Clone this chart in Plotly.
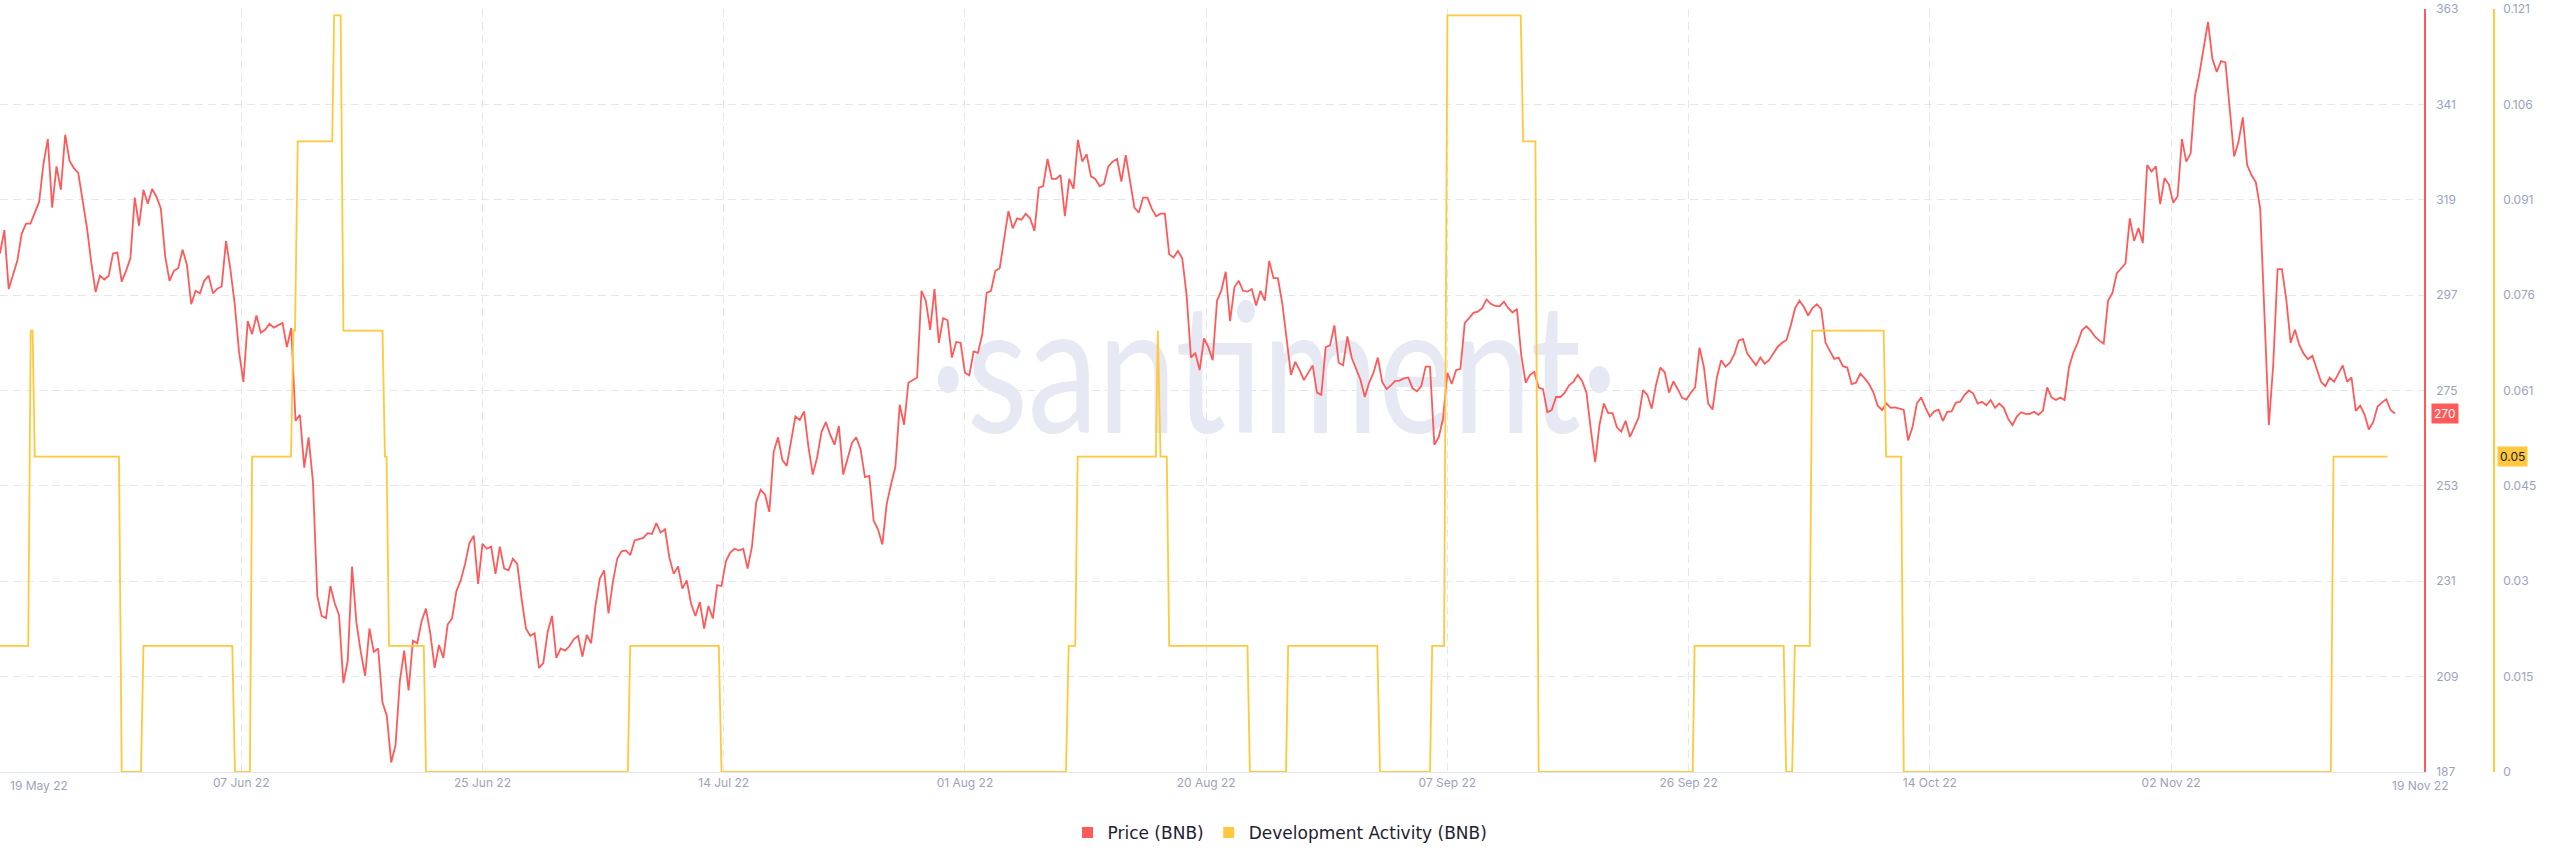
import pandas as pd
import plotly.graph_objects as go

# ---------------- data ----------------
start = pd.Timestamp("2022-05-19 12:00")
axis_end = pd.Timestamp("2022-11-21 09:30")

# BNB price, one reading every 8 hours from `start`
price = [
    306.6, 312, 298.4, 302, 305, 311.2, 313.5, 313.5, 316, 318.5,
    327.3, 333, 317.2, 326.7, 321.3, 334, 328, 326.3, 325.2, 319.2,
    312.6, 304.5, 297.7, 301.5, 300.6, 301.4, 306.6, 306.8, 300.1, 302.6,
    305.5, 319.5, 313, 321.3, 318.1, 321.5, 319.7, 317, 306, 300.3,
    302.6, 303.2, 307.5, 304, 294.9, 298, 297.4, 300.3, 301.5, 297.4,
    298.5, 299, 309.5, 303, 295, 283.9, 277, 291, 288, 292.3,
    288.3, 289, 290.4, 289.5, 290, 290.6, 285, 289.4, 268, 269.4,
    257.2, 264.2, 254, 227.6, 223, 222.5, 229.9, 226, 223.2, 207.5,
    212.6, 234.4, 221.5, 214.7, 209.2, 220.1, 214.7, 215.5, 203, 200,
    189.2, 193.2, 208.1,
    215, 205.8, 217.3, 216.7, 221.8, 224.7, 219, 211, 216.3, 213.3,
    221, 222.4, 228.7, 231.2, 235, 239.8, 241.5, 230.4, 239.6, 238.5,
    239, 232.7, 239, 233.9, 233.5, 236.2, 235, 227, 220.1, 218.4,
    219, 211, 212.1, 219.3, 223, 213.3, 215.5, 215, 216, 217.6,
    218.4, 213.6, 218.6, 216.7, 225.3, 231.6, 233.5, 223.6, 230.8, 236.2,
    237.9, 238.1, 237, 240.4, 240.7, 241, 242.1, 241.9, 244.4, 242.2,
    243, 236.5, 232.7, 234.4, 229.3, 231.2, 225.8, 223, 226.2, 220.1,
    225.3, 222.4, 230.1, 229.9, 235.6, 237.6, 238.5, 238.1, 238.5, 233.9,
    239, 249.3, 252.1, 251, 247, 260.8, 264.2, 259, 257.6, 263.1,
    269, 268.2, 270.2,
    262, 255.6, 259.6, 265.4, 267.7, 264.8, 262.5, 266.8, 255.6, 259.1,
    262.9, 264.2, 261.4, 255, 255.3, 245, 243, 239.5, 248.8, 253.3,
    257.4, 271.7, 267.1, 276.8, 277.4, 278, 298, 295.7, 289, 298.4,
    286, 291.7, 291.2, 282.6, 286.2, 286, 279.1, 278.5, 284, 283.7,
    288, 297.5, 298, 302.6, 303.2, 310.3, 316.4, 312.4, 314.7, 314.4,
    315.8, 314.7, 311.8, 321.8, 322.1, 328.4, 323.8, 323.8, 324.7, 315.2,
    323.8, 321.5, 332.8, 327.8, 329.5, 324.4, 323.8, 322.1, 322.7, 326.7,
    327.8, 328.4, 323.2, 329.3, 322.7, 317.2, 316, 319.5, 319.5, 316.9,
    315.2, 315.8, 315.8, 306.4, 305.7, 307.2, 305.5, 297, 282.6, 283.7,
    279.7, 287, 285,
    282, 295.7, 298.1, 302.4, 291, 298.8, 300.3, 298, 297.8, 298.4,
    294.6, 298, 295.7, 304.9, 300.9, 300.9, 295.2, 287.1, 278.6, 281.6,
    279.7, 277.4, 279.1, 280.8, 274.5, 274, 285, 285.4, 290, 281.4,
    280.8, 287.5, 282.5, 280, 277.5, 273.5, 276.8, 279.1, 282.6, 277,
    275.3, 276.2, 277.2, 277.3, 277.8, 278, 275.5, 274.8, 276, 280.5,
    280.5, 262.5, 264.2, 268.5, 279.1, 276.5, 279.7, 280, 290.6, 291.7,
    292.9, 293.2, 294, 296, 295, 294.5, 294.4, 295.5, 294, 293,
    293.8, 283.1, 276.8, 278.6, 279.3, 275.7, 275.3, 270, 270.5, 273.5,
    273.5, 274.5, 276.2, 277, 278.6, 277.2, 274.5, 266, 258.5, 267.1,
    272, 269.8, 269.8,
    266.5, 265.5, 268, 264.3, 266.5, 268.8, 275.1, 274, 270.8, 276.3,
    280.3, 279.2, 274.5, 277.1, 275.3, 273.3, 272.9, 274.5, 275.7, 284.9,
    280.5, 272, 270.6, 278, 282, 280.5, 281.4, 283.3, 286.5, 286.9,
    283.5, 282, 280.8, 282.6, 281.2, 282, 283.5, 285.1, 286, 286.6,
    290, 294, 295.7, 294.3, 292.3, 294, 294.9, 293.8, 286, 284.3,
    282.3, 282.6, 280.6, 280.3, 276.5, 276.8, 278.9, 277.8, 276.5, 274.6,
    271.5, 270.5, 272, 271, 271.1, 270.8, 270.5, 263.5, 266.5, 272,
    273.4, 271, 269, 270.2, 270.6, 268, 270.1, 270.2, 272.2, 272.4,
    274, 275, 274.3, 272, 272.4, 271.6, 272.8, 271, 272, 271,
    268.5, 267, 269,
    270, 269.6, 269.6, 270.1, 269.4, 270.3, 275.7, 273.4, 272.8, 273.4,
    272.8, 280.3, 283.7, 286, 288.9, 289.8, 288.8, 287.4, 286.5, 285.8,
    295.7, 297.5, 302, 303.2, 304.3, 314.7, 309.5, 312.5, 309, 327,
    325.5, 326.7, 318, 324, 322.5, 318.3, 319.8, 333, 327.8, 329.7,
    343, 348, 353.6, 360, 351.5, 348.5, 351, 350.7, 340, 329,
    332.3, 338, 327, 324.7, 323, 317, 292, 267, 281, 303,
    303, 296, 286, 289, 285.5, 283.5, 282.2, 283, 280, 277,
    276, 278, 277, 278.9, 280.8, 277, 278, 270.3, 271.5, 269.5,
    266, 267.7, 271.3, 272.2, 273, 270.5, 269.7,
]

# Development activity: hours after `start` and the value at that moment
dev_hours = [
    0, 52, 56.5, 60, 64, 219, 224, 259.5, 264, 427.5, 432.5, 460, 464,
    535.5, 540, 543, 548, 611.5, 615, 627, 632, 704, 708.5, 711.5, 716,
    780, 784, 1155.5, 1160, 1323, 1328, 1962, 1967, 1979, 1983.5, 2127.5,
    2131, 2136, 2147.5, 2152, 2296, 2300.5, 2367, 2371, 2535, 2540, 2632,
    2636, 2658, 2664, 2799, 2803.5, 2826, 2832, 3115.5, 3119, 3283, 3287.5,
    3298.5, 3303.5, 3331, 3335.5, 3467, 3471.5, 3499, 3504, 4290, 4295, 4394.5,
]
dev_values = [
    0.02, 0.02, 0.07, 0.07, 0.05, 0.05, 0, 0, 0.02, 0.02, 0, 0, 0.05,
    0.05, 0.07, 0.07, 0.1, 0.1, 0.12, 0.12, 0.07, 0.07, 0.05, 0.05, 0.02,
    0.02, 0, 0, 0.02, 0.02, 0, 0, 0.02, 0.02, 0.05, 0.05,
    0.07, 0.05, 0.05, 0.02, 0.02, 0, 0, 0.02, 0.02, 0, 0,
    0.02, 0.02, 0.12, 0.12, 0.1, 0.1, 0, 0, 0.02, 0.02, 0,
    0, 0.02, 0.02, 0.07, 0.07, 0.05, 0.05, 0, 0, 0.05, 0.05,
]

x_tick_dates = ["2022-06-07 00:00", "2022-06-25 12:00", "2022-07-14 00:00",
                "2022-08-01 12:00", "2022-08-20 00:00", "2022-09-07 12:00",
                "2022-09-26 00:00", "2022-10-14 12:00", "2022-11-02 00:00"]
x_tick_text = ["07 Jun 22", "25 Jun 22", "14 Jul 22", "01 Aug 22", "20 Aug 22",
               "07 Sep 22", "26 Sep 22", "14 Oct 22", "02 Nov 22"]
x_edge_labels = ["19 May 22", "19 Nov 22"]

price_ticks = [187, 209, 231, 253, 275, 297, 319, 341, 363]
dev_max = 0.121
dev_tick_text = ["0", "0.015", "0.03", "0.045", "0.061", "0.076", "0.091", "0.106", "0.121"]

series_names = ["Price (BNB)", "Development Activity (BNB)"]

# ---------------- styling ----------------
RED = "#ff5a5a"
YELLOW = "#ffc83d"
TICK = "#9ba3bc"
GRID = "#e4e7f0"
FONT = "Inter"

W, H = 2560, 867
plot_right = 2424 / W
dev_axis_pos = 2494 / W

price_times = pd.date_range(start, periods=len(price), freq="8h")
dev_times = [start + pd.Timedelta(hours=h) for h in dev_hours]
dev_tickvals = [dev_max * i / 8 for i in range(9)]

fig = go.Figure()

# watermark (drawn first so the series lie over it)
wm_x = start + (axis_end - start) * 0.5255
wm_y = price_ticks[0] + (price_ticks[-1] - price_ticks[0]) * 0.49
fig.add_trace(go.Scatter(
    x=[wm_x], y=[wm_y], mode="text", text=["·santiment·"],
    textfont=dict(family="Lato", size=141, color="#e6e9f3"),
    hoverinfo="skip", showlegend=False,
))

fig.add_trace(go.Scatter(
    x=price_times, y=price, mode="lines", name=series_names[0],
    line=dict(color=RED, width=1.8), showlegend=False, yaxis="y",
))
fig.add_trace(go.Scatter(
    x=dev_times, y=dev_values, mode="lines", name=series_names[1],
    line=dict(color=YELLOW, width=1.8), showlegend=False, yaxis="y2",
    cliponaxis=False,
))

# legend entries with square swatches
for name, col in zip(series_names, [RED, YELLOW]):
    fig.add_trace(go.Scatter(
        x=[None], y=[None], mode="markers", name=name,
        marker=dict(symbol="square", size=11, color=col), showlegend=True,
    ))

tickfont = dict(family=FONT, size=12, color=TICK)

fig.update_layout(
    width=W, height=H,
    margin=dict(l=0, r=0, t=9, b=95, autoexpand=False),
    paper_bgcolor="white", plot_bgcolor="white",
    font=dict(family=FONT),
    showlegend=True,
    hovermode=False,
    legend=dict(orientation="h", x=0.5, xanchor="center",
                y=(772 - 833) / 763, yanchor="middle",
                font=dict(family="DejaVu Sans", size=17, color="#1f2133"),
                itemwidth=30, tracegroupgap=0),
    xaxis=dict(
        type="date", domain=[0, plot_right], range=[start, axis_end],
        tickvals=x_tick_dates, ticktext=x_tick_text, tickfont=tickfont,
        showgrid=True, gridcolor=GRID, griddash="8px,5px", gridwidth=1,
        showline=True, linecolor="#e3e6ee", linewidth=1,
        zeroline=False, ticks="",
    ),
    yaxis=dict(
        range=[price_ticks[0], price_ticks[-1]], side="right",
        tickvals=price_ticks, tickfont=tickfont,
        showgrid=True, gridcolor=GRID, griddash="8px,5px", gridwidth=1,
        showline=True, linecolor=RED, linewidth=1.5,
        zeroline=False, ticks="", ticklabelstandoff=8,
    ),
    yaxis2=dict(
        range=[0, dev_max], overlaying="y", anchor="free",
        position=dev_axis_pos, side="right",
        tickvals=dev_tickvals, ticktext=dev_tick_text, tickfont=tickfont,
        showgrid=False, showline=True, linecolor=YELLOW, linewidth=1.5,
        zeroline=False, ticks="", ticklabelstandoff=6,
    ),
)

label_y = (772 - 785) / 763
fig.add_annotation(text=x_edge_labels[0], xref="paper", yref="paper",
                   x=8 / W, y=label_y, xanchor="left", yanchor="middle",
                   showarrow=False, font=tickfont)
fig.add_annotation(text=x_edge_labels[1], xref="paper", yref="paper",
                   x=2420 / W, y=label_y, xanchor="center", yanchor="middle",
                   showarrow=False, font=tickfont)

# last-value badges
fig.add_annotation(text=str(round(price[-1])), xref="paper", yref="y",
                   x=2431 / W, y=price[-1], xanchor="left", yanchor="middle",
                   showarrow=False, bgcolor=RED, borderpad=2,
                   font=dict(family=FONT, size=12, color="white"))
fig.add_annotation(text=f"{dev_values[-1]:g}", xref="paper", yref="y2",
                   x=2497 / W, y=dev_values[-1], xanchor="left", yanchor="middle",
                   showarrow=False, bgcolor=YELLOW, borderpad=2,
                   font=dict(family=FONT, size=12, color="#1b1b1b"))

# page tweaks: no body margin; watermark glyphs stretched vertically
post_js = """
document.body.style.margin='0px';
document.querySelectorAll('g.textpoint text').forEach(function(el){
  var y = parseFloat(el.getAttribute('y')) || 0;
  var t = el.getAttribute('transform') || '';
  el.setAttribute('transform', t + ' translate(0,' + y + ') scale(1,1.28) translate(0,' + (-y) + ')');
});
"""

fig.write_html("out.html", config={"displayModeBar": False}, post_script=post_js)
